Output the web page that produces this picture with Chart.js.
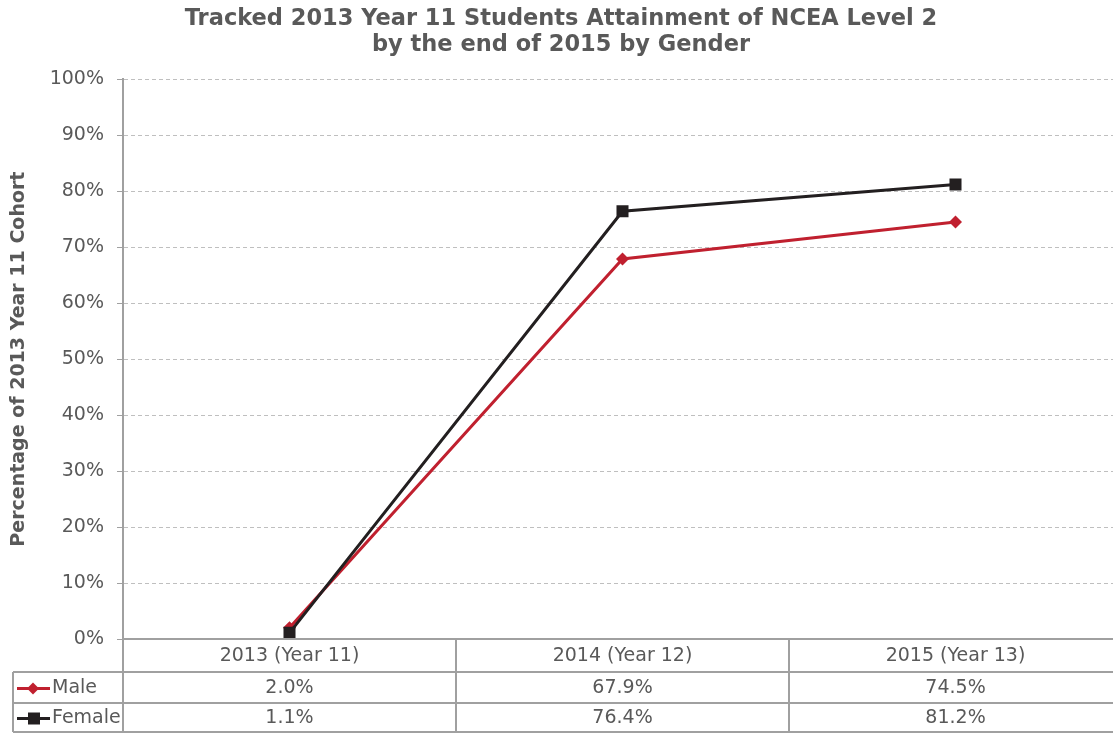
<!DOCTYPE html>
<html lang="en">
<head>
    <meta charset="UTF-8">
    <title>Tracked 2013 Year 11 Students Attainment of NCEA Level 2</title>
    <script src="https://cdn.jsdelivr.net/npm/chart.js"></script>
    <style>
        html, body {
            margin: 0;
            overflow: hidden;
            background: #fff;
        }
        /* o gráfico original continua um pouco além da margem direita */
        .container {
            width: 1124px;
            height: 733px;
            position: relative;
        }
        canvas {
            display: block;
        }
    </style>
</head>
<body>
    <div class="container">
        <canvas id="grafico"></canvas>
    </div>

    <script>
        const categorias = ['2013 (Year 11)', '2014 (Year 12)', '2015 (Year 13)'];
        const male = [2.0, 67.9, 74.5];
        const female = [1.1, 76.4, 81.2];
        const nomes = ['Male', 'Female'];

        const cinza = '#595959';
        const fonte = '"DejaVu Sans", Verdana, sans-serif';

        // tabela de dados por baixo do gráfico
        const tabelaPlugin = {
            id: 'tabela',
            afterDraw(chart) {
                const ctx = chart.ctx;
                const area = chart.chartArea;
                const x = chart.scales.x;
                const esquerda = 13;
                const linhas = [area.bottom, area.bottom + 33, area.bottom + 64, area.bottom + 93];
                const divisorias = [area.left];
                for (let i = 1; i < categorias.length; i++) {
                    divisorias.push((x.getPixelForValue(i - 1) + x.getPixelForValue(i)) / 2);
                }
                divisorias.push(area.right);

                ctx.save();
                ctx.strokeStyle = '#a0a0a0';
                ctx.lineWidth = 2;
                ctx.beginPath();
                ctx.moveTo(area.left, linhas[0]);
                ctx.lineTo(area.right, linhas[0]);
                for (let i = 1; i < linhas.length; i++) {
                    ctx.moveTo(esquerda, linhas[i]);
                    ctx.lineTo(area.right, linhas[i]);
                }
                divisorias.forEach(d => {
                    ctx.moveTo(d, linhas[0]);
                    ctx.lineTo(d, linhas[3]);
                });
                ctx.moveTo(esquerda, linhas[1]);
                ctx.lineTo(esquerda, linhas[3]);
                ctx.stroke();

                ctx.fillStyle = cinza;
                ctx.font = '19px ' + fonte;
                ctx.textAlign = 'center';
                ctx.textBaseline = 'middle';
                categorias.forEach((c, i) => {
                    ctx.fillText(c, x.getPixelForValue(i), (linhas[0] + linhas[1]) / 2 + 1);
                });

                chart.data.datasets.forEach((ds, r) => {
                    const cy = (linhas[r + 1] + linhas[r + 2]) / 2 + 1;
                    ds.data.forEach((v, i) => {
                        ctx.fillStyle = cinza;
                        ctx.textAlign = 'center';
                        ctx.fillText(v.toFixed(1) + '%', x.getPixelForValue(i), cy);
                    });
                    // marcador da legenda
                    ctx.strokeStyle = ds.borderColor;
                    ctx.lineWidth = 3;
                    ctx.beginPath();
                    ctx.moveTo(17, cy);
                    ctx.lineTo(50, cy);
                    ctx.stroke();
                    ctx.fillStyle = ds.borderColor;
                    ctx.beginPath();
                    if (ds.pointStyle === 'rectRot') {
                        ctx.moveTo(33, cy - 6);
                        ctx.lineTo(39, cy);
                        ctx.lineTo(33, cy + 6);
                        ctx.lineTo(27, cy);
                        ctx.closePath();
                    } else {
                        ctx.rect(28, cy - 6, 12, 12);
                    }
                    ctx.fill();
                    ctx.fillStyle = cinza;
                    ctx.textAlign = 'left';
                    ctx.fillText(ds.label, 52, cy);
                });
                ctx.restore();
            }
        };

        new Chart(document.getElementById('grafico'), {
            type: 'line',
            data: {
                labels: categorias,
                datasets: [
                    {
                        label: nomes[0],
                        data: male,
                        borderColor: '#c0202f',
                        backgroundColor: '#c0202f',
                        borderWidth: 3,
                        pointStyle: 'rectRot',
                        pointRadius: 6.5,
                        pointBorderWidth: 0,
                        order: 2
                    },
                    {
                        label: nomes[1],
                        data: female,
                        borderColor: '#231f20',
                        backgroundColor: '#231f20',
                        borderWidth: 3,
                        pointStyle: 'rect',
                        pointRadius: 8.5,
                        pointBorderWidth: 0,
                        order: 1
                    }
                ]
            },
            options: {
                responsive: true,
                maintainAspectRatio: false,
                animation: false,
                layout: {
                    autoPadding: false,
                    padding: { left: 0, right: 2, bottom: 94, top: 0 }
                },
                plugins: {
                    legend: { display: false },
                    tooltip: { enabled: false },
                    title: {
                        display: true,
                        text: ['Tracked 2013 Year 11 Students Attainment of NCEA Level 2', 'by the end of 2015 by Gender'],
                        color: cinza,
                        font: { family: fonte, size: 22.5, weight: 'bold', lineHeight: 1.16 },
                        padding: { top: 6, bottom: 21 }
                    }
                },
                scales: {
                    x: {
                        offset: true,
                        ticks: { display: false },
                        grid: { display: false, drawTicks: false },
                        border: { display: false },
                        afterFit: scale => { scale.paddingLeft = 0; scale.paddingRight = 0; }
                    },
                    y: {
                        min: 0,
                        max: 100,
                        ticks: {
                            stepSize: 10,
                            color: cinza,
                            font: { family: fonte, size: 19 },
                            padding: 13,
                            callback: v => v + '%'
                        },
                        grid: {
                            color: ctx => ctx.tick.value === 0 ? 'rgba(0,0,0,0)' : '#bfbfbf',
                            tickLength: 6,
                            tickColor: '#a0a0a0',
                            tickBorderDash: [],
                            lineWidth: 1
                        },
                        border: { color: '#a0a0a0', width: 2, dash: [4, 3] },
                        title: {
                            display: true,
                            text: 'Percentage of 2013 Year 11 Cohort',
                            color: cinza,
                            font: { family: fonte, size: 19, weight: 'bold' },
                            padding: { top: 8, bottom: 4 }
                        },
                        afterFit: scale => { scale.width = 123; }
                    }
                }
            },
            plugins: [tabelaPlugin]
        });
    </script>
</body>
</html>
